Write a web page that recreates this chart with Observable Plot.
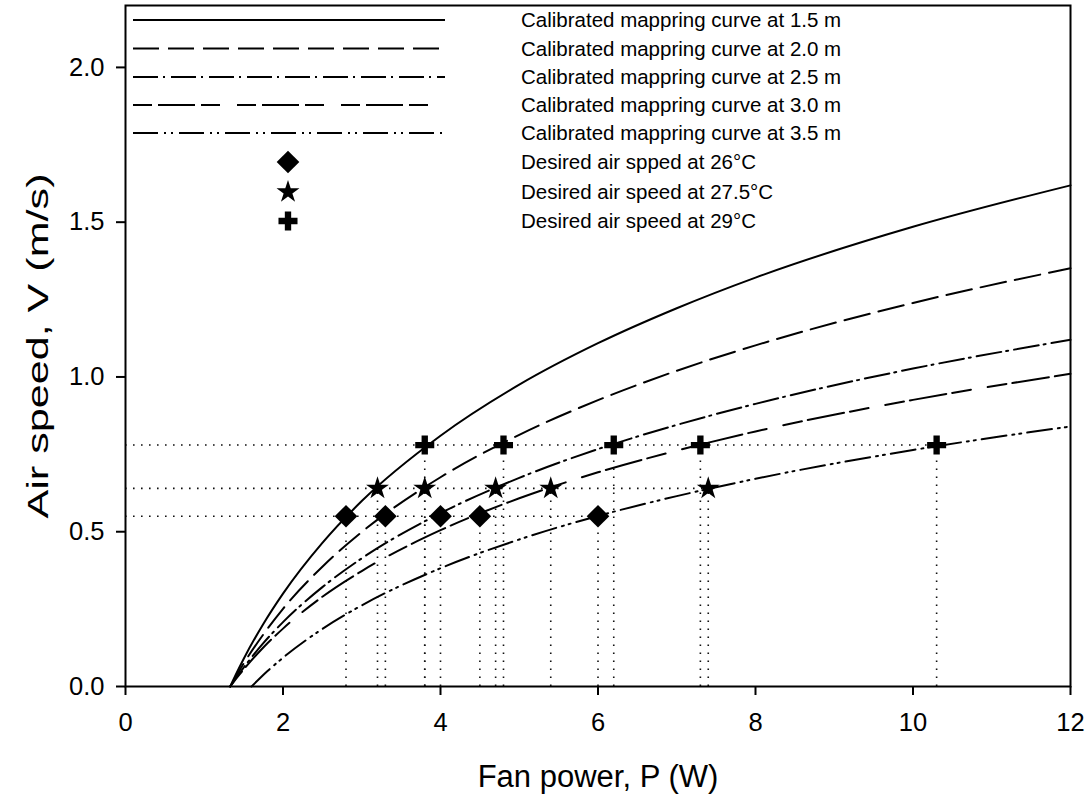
<!DOCTYPE html>
<html>
<head>
<meta charset="utf-8">
<script src="https://cdn.jsdelivr.net/npm/d3@7"></script>
<script src="https://cdn.jsdelivr.net/npm/@observablehq/plot@0.6"></script>
<style>
  html, body { margin: 0; padding: 0; background: white; }
  #chart { width: 1089px; height: 801px; }
</style>
</head>
<body>
<div id="chart"></div>
<script>
// ---- data ----
const xTicks = [0, 2, 4, 6, 8, 10, 12];
const yTicks = [0, 0.5, 1.0, 1.5, 2.0];

const curveLabels = [
  "Calibrated mappring curve at 1.5 m",
  "Calibrated mappring curve at 2.0 m",
  "Calibrated mappring curve at 2.5 m",
  "Calibrated mappring curve at 3.0 m",
  "Calibrated mappring curve at 3.5 m"
];
const curveP   = [1.33, 1.4, 1.5, 1.75, 2, 2.5, 3, 4, 5, 6, 7, 8, 10, 12];
const curve15  = [0, 0.038, 0.089, 0.202, 0.300, 0.464, 0.599, 0.810, 0.975, 1.109, 1.222, 1.321, 1.485, 1.619];
const curve20  = [0, 0.031, 0.074, 0.168, 0.251, 0.387, 0.499, 0.676, 0.813, 0.925, 1.020, 1.102, 1.239, 1.351];
const curve25  = [0, 0.026, 0.061, 0.140, 0.208, 0.321, 0.414, 0.560, 0.674, 0.767, 0.845, 0.913, 1.027, 1.120];
const curve30  = [0, 0.024, 0.055, 0.126, 0.187, 0.290, 0.373, 0.505, 0.608, 0.692, 0.762, 0.824, 0.926, 1.010];
const curve35P = [1.6, 1.7, 1.8, 2, 2.5, 3, 4, 5, 6, 7, 8, 10, 12];
const curve35  = [0, 0.025, 0.049, 0.093, 0.186, 0.262, 0.382, 0.475, 0.551, 0.615, 0.671, 0.764, 0.840];

const markerLabels = [
  "Desired air spped at 26°C",
  "Desired air speed at 27.5°C",
  "Desired air speed at 29°C"
];
const speed26 = 0.55;
const power26 = [2.8, 3.3, 4.0, 4.5, 6.0];
const speed275 = 0.64;
const power275 = [3.2, 3.8, 4.7, 5.4, 7.4];
const speed29 = 0.78;
const power29 = [3.8, 4.8, 6.2, 7.3, 10.3];

const yTitle = "Air speed, V (m/s)";
const xTitle = "Fan power, P (W)";

// ---- styling ----
const dashes = [null, "26,9", "25,5,2,6", "19,6,37,6,19,17", "25,6,2,5,2,6"];
const symbols = ["diamond2", "star", "cross"];
const symbolR = [10.2, 7.2, 8];
const dotDash = "1.6,6.4";
const FONT = "'Liberation Sans', Arial, sans-serif";

// ---- build tables ----
const curves = [
  {P: curveP, V: curve15},
  {P: curveP, V: curve20},
  {P: curveP, V: curve25},
  {P: curveP, V: curve30},
  {P: curve35P, V: curve35}
].map((c, i) => c.P.map((p, j) => ({P: p, V: c.V[j], series: curveLabels[i]})));

const groups = [
  {speed: speed26, power: power26},
  {speed: speed275, power: power275},
  {speed: speed29, power: power29}
];
const points = groups.flatMap((g, i) => g.power.map(p => ({P: p, V: g.speed, group: i})));
const hRules = groups.map(g => ({V: g.speed, P1: 0, P2: d3.max(g.power)}));

const marks = [
  Plot.axisX({ticks: xTicks, tickSize: 9, tickPadding: 17, fontSize: 25.5, strokeWidth: 2, label: null, tickFormat: d => String(d)}),
  Plot.axisY({ticks: yTicks, tickSize: 9, tickPadding: 12, fontSize: 25.5, strokeWidth: 2, label: null, tickFormat: d3.format(".1f")}),
  Plot.ruleY(hRules, {y: "V", x1: "P1", x2: "P2", stroke: "#111", strokeWidth: 1.6, strokeDasharray: dotDash}),
  Plot.ruleX(points, {x: "P", y1: 0, y2: "V", stroke: "#111", strokeWidth: 1.6, strokeDasharray: dotDash})
];
curves.forEach((rows, i) => {
  marks.push(Plot.line(rows, {x: "P", y: "V", stroke: "black", strokeWidth: 2, curve: "monotone-x",
    strokeDasharray: dashes[i] || undefined}));
});
groups.forEach((g, i) => {
  marks.push(Plot.dot(points.filter(d => d.group === i), {x: "P", y: "V", symbol: () => symbols[i], r: symbolR[i], fill: "black", stroke: "none"}));
});
marks.push(Plot.frame({stroke: "black", strokeWidth: 2}));
marks.push(Plot.text([yTitle], {text: d => d, frameAnchor: "left", dx: -87, rotate: -90, fontSize: 30, textAnchor: "middle", lineAnchor: "middle", fill: "black"}));
marks.push(Plot.text([xTitle], {text: d => d, frameAnchor: "bottom", dy: 91, fontSize: 31, textAnchor: "middle", lineAnchor: "middle", fill: "black"}));

const chart = Plot.plot({
  width: 1089,
  height: 801,
  marginLeft: 125,
  marginRight: 19,
  marginTop: 5,
  marginBottom: 115,
  style: {fontFamily: FONT, background: "white", color: "black", overflow: "visible"},
  x: {domain: [0, 12]},
  y: {domain: [0, 2.2]},
  symbol: {type: "identity"},
  marks
});

const svg = d3.select(chart);
svg.selectAll("text").filter(function() { return this.textContent === yTitle; })
  .attr("textLength", 345).attr("lengthAdjust", "spacingAndGlyphs");

// ---- legend (inside plot area, top-left) ----
const lg = svg.append("g").attr("class", "legend")
  .attr("font-family", FONT).attr("font-size", 20.5).attr("text-anchor", "start");
const lineRowsY = [20, 48.5, 77, 105, 133];
const markerRowsY = [162, 192, 221];
curveLabels.forEach((lab, i) => {
  const y = lineRowsY[i];
  lg.append("line").attr("x1", 133).attr("x2", 445).attr("y1", y).attr("y2", y)
    .attr("stroke", "black").attr("stroke-width", 2)
    .attr("stroke-dasharray", dashes[i] || null);
  lg.append("text").attr("x", 521).attr("y", y).attr("dy", "0.35em").attr("fill", "black").attr("text-anchor", "start").text(lab);
});
const d3sym = [d3.symbolDiamond2, d3.symbolStar, d3.symbolCross];
markerLabels.forEach((lab, i) => {
  const y = markerRowsY[i];
  const size = Math.PI * symbolR[i] * symbolR[i];
  lg.append("path").attr("transform", `translate(288,${y})`).attr("d", d3.symbol(d3sym[i], size)()).attr("fill", "black");
  lg.append("text").attr("x", 521).attr("y", y).attr("dy", "0.35em").attr("fill", "black").attr("text-anchor", "start").text(lab);
});

document.getElementById("chart").appendChild(chart);
</script>
</body>
</html>
